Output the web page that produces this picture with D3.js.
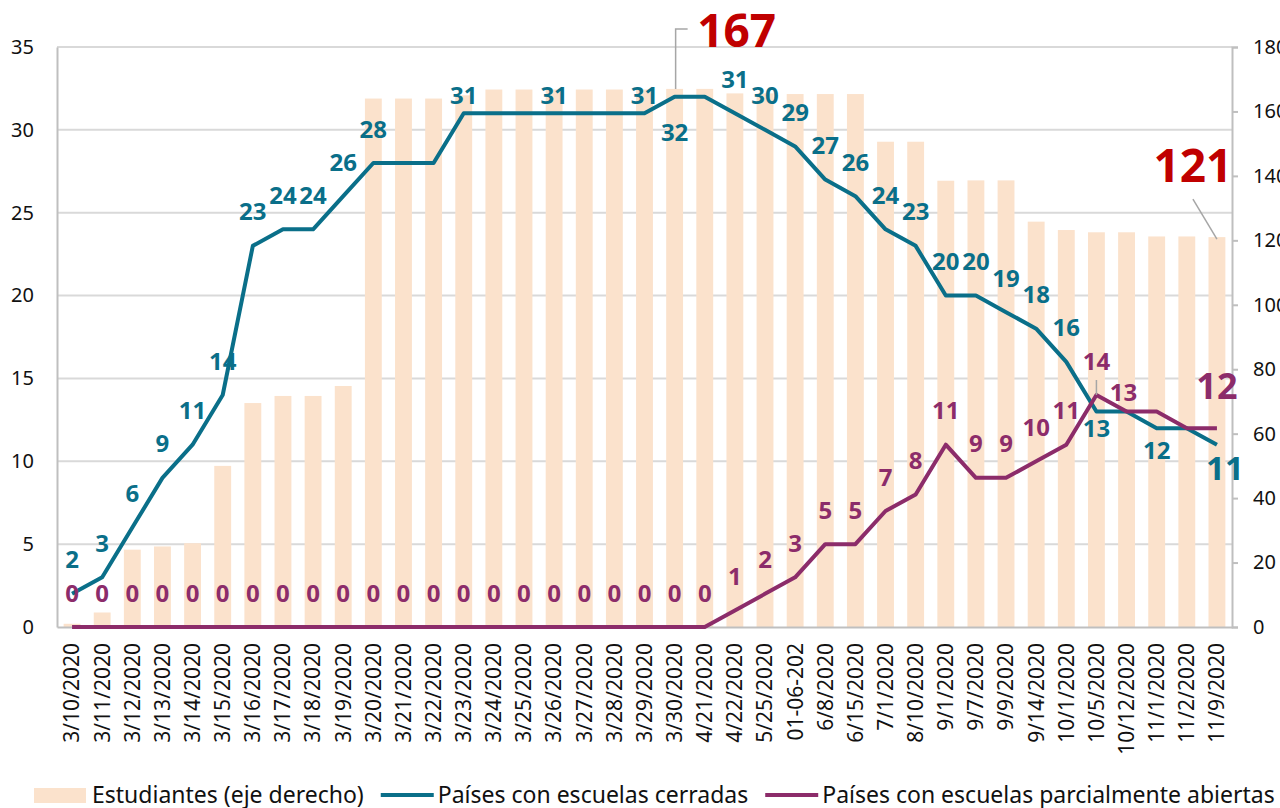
<!DOCTYPE html>
<html>
<head>
<meta charset="utf-8">
<script src="https://cdn.jsdelivr.net/npm/d3@7"></script>
<style>
  body { margin: 0; background: #fff; }
  svg { display: block; font-family: "Noto Sans", sans-serif; }
</style>
</head>
<body>
<svg id="chart" width="1280" height="808"></svg>
<script>
// data
const dates = ["3/10/2020","3/11/2020","3/12/2020","3/13/2020","3/14/2020","3/15/2020","3/16/2020",
  "3/17/2020","3/18/2020","3/19/2020","3/20/2020","3/21/2020","3/22/2020","3/23/2020","3/24/2020",
  "3/25/2020","3/26/2020","3/27/2020","3/28/2020","3/29/2020","3/30/2020","4/21/2020","4/22/2020",
  "5/25/2020","01-06-202","6/8/2020","6/15/2020","7/1/2020","8/10/2020","9/1/2020","9/7/2020",
  "9/9/2020","9/14/2020","10/1/2020","10/5/2020","10/12/2020","11/1/2020","11/2/2020","11/9/2020"];

// students, millions (right axis)
const students = [1, 4.5, 24, 25, 26, 50, 69.5, 71.7, 71.7, 74.8, 164, 164, 164, 165, 166.8,
  166.8, 166.8, 166.8, 166.8, 166.8, 167, 167, 165.6, 165.6, 165.4, 165.4, 165.4, 150.6, 150.6,
  138.5, 138.6, 138.6, 125.8, 123.2, 122.5, 122.5, 121.2, 121.2, 121];

const closed = [2, 3, 6, 9, 11, 14, 23, 24, 24, 26, 28, 28, 28, 31, 31, 31, 31, 31, 31, 31, 32, 32,
  31, 30, 29, 27, 26, 24, 23, 20, 20, 19, 18, 16, 13, 13, 12, 12, 11];

const partial = [0, 0, 0, 0, 0, 0, 0, 0, 0, 0, 0, 0, 0, 0, 0, 0, 0, 0, 0, 0, 0, 0,
  1, 2, 3, 5, 5, 7, 8, 11, 9, 9, 10, 11, 14, 13, 13, 12, 12];

const leftTicks = [0, 5, 10, 15, 20, 25, 30, 35];
const rightTicks = [0, 20, 40, 60, 80, 100, 120, 140, 160, 180];

const legendNames = ["Estudiantes (eje derecho)", "Países con escuelas cerradas",
  "Países con escuelas parcialmente abiertas"];

// which points carry a label, and where it sits (offset from the point)
const closedLabelAt = {0:-34,1:-34,2:-34,3:-34,4:-34,5:-34,6:-34,7:-34,8:-34,9:-34,10:-34,
  13:-18,16:-18,19:-18,20:36,22:-34,23:-34,24:-34,25:-34,26:-34,27:-34,28:-34,29:-34,30:-34,
  31:-34,32:-34,33:-34,34:17,36:22};
const partialLabelAt = {};
for (let i = 0; i <= 34; i++) partialLabelAt[i] = -34;
partialLabelAt[35] = -19;

const colBar = "#fbe2cc", colClosed = "#0a6f89", colPartial = "#8c2c6a", colRed = "#c00000";

const svg = d3.select("#chart");
const m = { left: 57, right: 1232, top: 47, bottom: 627 };

const x = d3.scaleBand().domain(dates).range([m.left, m.right]);
const yL = d3.scaleLinear().domain([0, 35]).range([m.bottom, m.top]);
const yR = d3.scaleLinear().domain([0, 180]).range([m.bottom, m.top]);
const cx = d => x(d) + x.bandwidth() / 2;

// gridlines
svg.append("g")
  .selectAll("line")
  .data(leftTicks.filter(v => v > 0))
  .join("line")
  .attr("x1", m.left).attr("x2", m.right)
  .attr("y1", d => yL(d)).attr("y2", d => yL(d))
  .attr("stroke", "#d9d9d9").attr("stroke-width", 2);

// bars
const bw = x.bandwidth() * 0.56;
svg.append("g")
  .selectAll("rect")
  .data(students)
  .join("rect")
  .attr("x", (d, i) => cx(dates[i]) - bw / 2)
  .attr("width", bw)
  .attr("y", d => yR(d))
  .attr("height", d => m.bottom - yR(d))
  .attr("fill", colBar);

// axes
const axL = svg.append("g")
  .attr("transform", `translate(${m.left},0)`)
  .call(d3.axisLeft(yL).tickValues(leftTicks).tickSize(0).tickPadding(23));
axL.select(".domain").attr("stroke", "#bfbfbf").attr("stroke-width", 2);

const axR = svg.append("g")
  .attr("transform", `translate(${m.right},0)`)
  .call(d3.axisRight(yR).tickValues(rightTicks).tickSize(6).tickPadding(15));
axR.select(".domain").attr("stroke", "#bfbfbf").attr("stroke-width", 2);
axR.selectAll(".tick line").attr("stroke", "#bfbfbf").attr("stroke-width", 2);

const axB = svg.append("g")
  .attr("transform", `translate(0,${m.bottom})`)
  .call(d3.axisBottom(x).tickSize(0));
axB.select(".domain").attr("stroke", "#bfbfbf").attr("stroke-width", 2);
axB.selectAll("text")
  .attr("transform", "rotate(-90)")
  .attr("text-anchor", "end")
  .attr("x", -16).attr("y", 0).attr("dy", "0.35em")
  .style("font-size", "21px");

svg.selectAll(".tick text").attr("fill", "#111").style("font-family", "Noto Sans");
axL.selectAll("text").style("font-size", "20px");
axR.selectAll("text").style("font-size", "20px");

// lines
const lineL = d3.line().x((d, i) => cx(dates[i])).y(d => yL(d));
svg.append("path").datum(closed)
  .attr("d", lineL).attr("fill", "none")
  .attr("stroke", colClosed).attr("stroke-width", 4).attr("stroke-linejoin", "round");
svg.append("path").datum(partial)
  .attr("d", lineL).attr("fill", "none")
  .attr("stroke", colPartial).attr("stroke-width", 4).attr("stroke-linejoin", "round");

// leader lines
const i167 = 20, i121 = 38, i14 = 34;
svg.append("polyline")
  .attr("points", [[cx(dates[i167]) + 1, yR(students[i167])], [cx(dates[i167]) + 1, 29],
    [cx(dates[i167]) + 13, 29]].join(" "))
  .attr("fill", "none").attr("stroke", "#a6a6a6").attr("stroke-width", 1.5);
svg.append("line")
  .attr("x1", cx(dates[i121]) - 24).attr("y1", yR(students[i121]) - 38)
  .attr("x2", cx(dates[i121])).attr("y2", yR(students[i121]) + 2)
  .attr("stroke", "#a6a6a6").attr("stroke-width", 1.5);
svg.append("line")
  .attr("x1", cx(dates[i14])).attr("x2", cx(dates[i14]))
  .attr("y1", yL(partial[i14]) - 15).attr("y2", yL(partial[i14]))
  .attr("stroke", "#a6a6a6").attr("stroke-width", 1.5);

// data labels
function addLabels(values, where, color) {
  svg.append("g")
    .selectAll("text")
    .data(Object.keys(where).map(Number))
    .join("text")
    .attr("x", i => cx(dates[i]) + (values === partial && i === 35 ? -3 : 0))
    .attr("y", i => yL(values[i]) + where[i])
    .attr("dy", "0.36em")
    .attr("text-anchor", "middle")
    .attr("fill", color)
    .style("font-size", "24px").style("font-weight", "bold")
    .text(i => values[i]);
}
addLabels(closed, closedLabelAt, colClosed);
addLabels(partial, partialLabelAt, colPartial);

// big labels
const last = dates.length - 1;
svg.append("text")
  .attr("x", cx(dates[last]) + 8).attr("y", yL(closed[last]) + 23).attr("dy", "0.36em")
  .attr("text-anchor", "middle").attr("fill", colClosed)
  .style("font-size", "33px").style("font-weight", "bold").text(closed[last]);
svg.append("text")
  .attr("x", cx(dates[last])).attr("y", yL(partial[last]) - 42).attr("dy", "0.36em")
  .attr("text-anchor", "middle").attr("fill", colPartial)
  .style("font-size", "36px").style("font-weight", "bold").text(partial[last]);
svg.append("text")
  .attr("x", cx(dates[i167]) + 62).attr("y", yR(students[i167]) - 42)
  .attr("text-anchor", "middle").attr("fill", colRed)
  .style("font-size", "46px").style("font-weight", "bold").text(Math.round(students[i167]));
svg.append("text")
  .attr("x", cx(dates[i121]) - 24).attr("y", yR(students[i121]) - 55)
  .attr("text-anchor", "middle").attr("fill", colRed)
  .style("font-size", "46px").style("font-weight", "bold").text(Math.round(students[i121]));

// legend
const leg = svg.append("g").attr("transform", "translate(0,795)");
let lx = 34;
leg.append("rect").attr("x", lx).attr("y", -7).attr("width", 52).attr("height", 15).attr("fill", colBar);
lx += 58;
const swatch = [null, colClosed, colPartial];
legendNames.forEach((name, k) => {
  if (k > 0) {
    leg.append("line").attr("x1", lx).attr("x2", lx + 53).attr("y1", 0).attr("y2", 0)
      .attr("stroke", swatch[k]).attr("stroke-width", 4);
    lx += 57;
  }
  const t = leg.append("text").attr("x", lx).attr("y", 0).attr("dy", "0.35em")
    .attr("fill", "#111").style("font-size", "23px").text(name);
  lx += t.node().getComputedTextLength() + 17;
});
</script>
</body>
</html>
